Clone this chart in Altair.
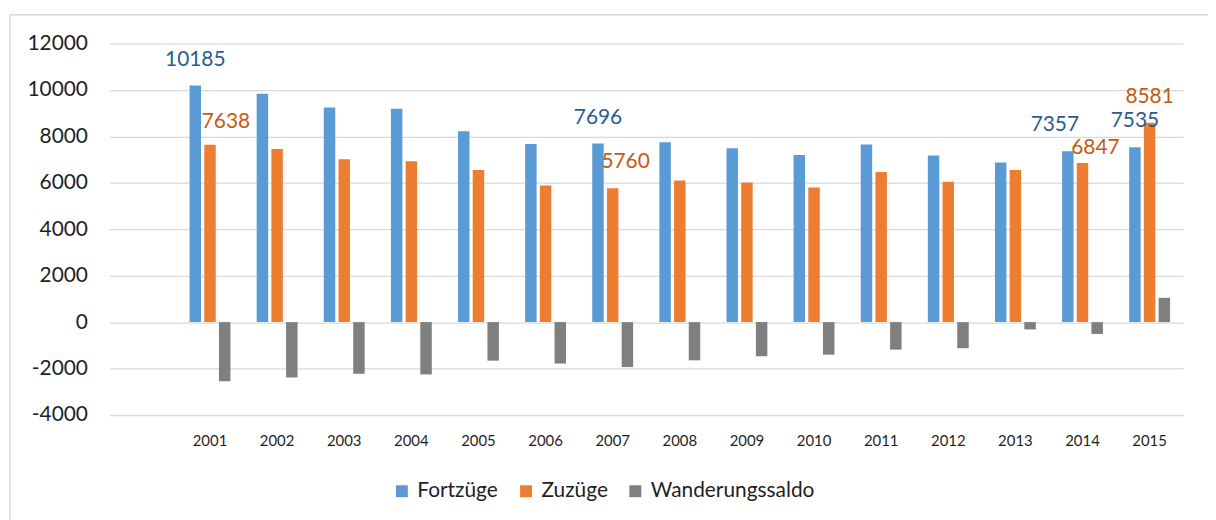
import altair as alt
import pandas as pd

years = [str(y) for y in range(2001, 2016)]
fortzuege = [10185, 9840, 9240, 9185, 8215, 7670, 7696, 7745, 7485, 7200, 7645, 7170, 6870, 7357, 7535]
zuzuege = [7638, 7455, 7015, 6930, 6555, 5885, 5760, 6100, 6015, 5800, 6460, 6045, 6555, 6847, 8581]
saldo = [-2547, -2385, -2225, -2255, -1660, -1785, -1936, -1645, -1470, -1400, -1185, -1125, -315, -510, 1046]

series_names = ["Fortzüge", "Zuzüge", "Wanderungssaldo"]
colors = ["#5B9BD5", "#ED7D31", "#7F7F7F"]
label_blue = "#2A5D8F"
label_orange = "#C55A11"
y_ticks = list(range(-4000, 12001, 2000))
x_domain = [" "] + years

rows = []
for name, vals in zip(series_names, [fortzuege, zuzuege, saldo]):
    for yr, v in zip(years, vals):
        rows.append({"year": yr, "series": name, "value": v})
df = pd.DataFrame(rows)

FONT = "Lato"
TXT = "#1F1F1F"

x_enc = alt.X(
    "year:N",
    scale=alt.Scale(domain=x_domain, paddingInner=0.343, paddingOuter=0.1715),
    axis=alt.Axis(title=None, labelAngle=0, ticks=False, domain=False, grid=False,
                  labelFontSize=15, labelPadding=19, labelColor=TXT, labelFont=FONT),
)
xoff = alt.XOffset("series:N", scale=alt.Scale(domain=series_names, paddingInner=0.22, paddingOuter=0.11))
y_enc = alt.Y(
    "value:Q",
    scale=alt.Scale(domain=[-4000, 12000], nice=False, zero=True),
    axis=alt.Axis(values=y_ticks, labelExpr="'' + datum.value", title=None, ticks=False, domain=False,
                  labelFontSize=21, labelPadding=22, labelColor=TXT, labelFont=FONT,
                  gridColor="#D9D9D9", gridWidth=1.3),
)

bars = alt.Chart(df).mark_bar().encode(
    x=x_enc,
    xOffset=xoff,
    y=y_enc,
    color=alt.Color(
        "series:N",
        scale=alt.Scale(domain=series_names, range=colors),
        legend=alt.Legend(title=None, orient="none", legendX=284, legendY=440,
                          direction="horizontal", symbolType="square", symbolSize=144,
                          symbolStrokeWidth=0, labelFontSize=21, labelFont=FONT,
                          columnPadding=17, labelOffset=5, labelColor=TXT, labelLimit=400),
    ),
)

# labelled bars grouped by label placement
label_groups = [
    (["2001", "2007", "2015"], "Fortzüge", label_blue, 0, -26),
    (["2014"], "Fortzüge", label_blue, -13, -26),
    (["2015"], "Zuzüge", label_orange, 0, -26),
    (["2001"], "Zuzüge", label_orange, 16, -23),
    (["2007"], "Zuzüge", label_orange, 13, -26),
    (["2014"], "Zuzüge", label_orange, 13, -15),
]

layers = [bars]
for yrs, ser, col, dx, dy in label_groups:
    sub = df[(df["series"] == ser) & (df["year"].isin(yrs))]
    t = alt.Chart(sub).mark_text(color=col, fontSize=21, font=FONT, dx=dx, dy=dy,
                                 baseline="middle", align="center").encode(
        x=alt.X("year:N"),
        xOffset=alt.XOffset("series:N"),
        y=alt.Y("value:Q"),
        text=alt.Text("value:Q", format="d"),
    )
    layers.append(t)

frame = pd.DataFrame({"k": [0]})
vline = alt.Chart(frame).mark_rule(color="#D9D9D9", strokeWidth=1.5).encode(
    x=alt.value(-100), y=alt.value(-29), y2=alt.value(600))
hline = alt.Chart(frame).mark_rule(color="#D9D9D9", strokeWidth=1.5).encode(
    y=alt.value(-29), x=alt.value(-100), x2=alt.value(1300))
layers += [vline, hline]

chart = alt.layer(*layers).properties(
    width=1081, height=374,
    autosize=alt.AutoSizeParams(type="none"),
    padding={"left": 102, "top": 34, "right": 25, "bottom": 104},
    background="white",
).configure_view(stroke=None)

chart.save("out.html", embed_options={"renderer": "svg", "actions": False})
